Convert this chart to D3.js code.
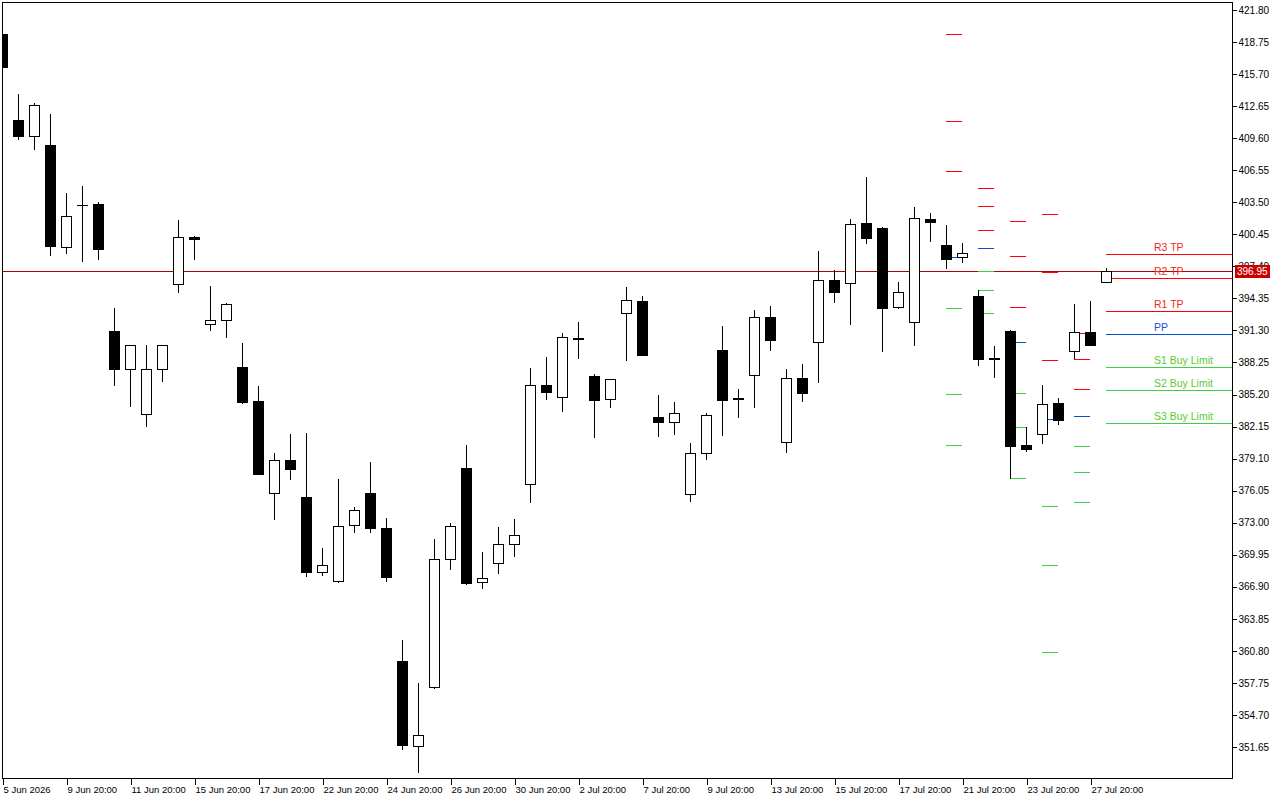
<!DOCTYPE html>
<html><head><meta charset="utf-8">
<script src="https://cdn.jsdelivr.net/npm/d3@7"></script>
<style>html,body{margin:0;padding:0;background:#fff;overflow:hidden}svg{display:block}</style>
</head><body>
<svg id="c" width="1280" height="800"></svg>
<script>
// ---------- DATA ----------
const dates = [
 "2026-06-05 20:00",
 "2026-06-08 08:00","2026-06-08 20:00","2026-06-09 08:00","2026-06-09 20:00",
 "2026-06-10 08:00","2026-06-10 20:00","2026-06-11 08:00","2026-06-11 20:00",
 "2026-06-12 08:00","2026-06-12 20:00","2026-06-15 08:00","2026-06-15 20:00",
 "2026-06-16 08:00","2026-06-16 20:00","2026-06-17 08:00","2026-06-17 20:00",
 "2026-06-18 08:00","2026-06-18 20:00","2026-06-22 08:00","2026-06-22 20:00",
 "2026-06-23 08:00","2026-06-23 20:00","2026-06-24 08:00","2026-06-24 20:00",
 "2026-06-25 08:00","2026-06-25 20:00","2026-06-26 08:00","2026-06-26 20:00",
 "2026-06-29 08:00","2026-06-29 20:00","2026-06-30 08:00","2026-06-30 20:00",
 "2026-07-01 08:00","2026-07-01 20:00","2026-07-02 08:00","2026-07-02 20:00",
 "2026-07-06 08:00","2026-07-06 20:00","2026-07-07 08:00","2026-07-07 20:00",
 "2026-07-08 08:00","2026-07-08 20:00","2026-07-09 08:00","2026-07-09 20:00",
 "2026-07-10 08:00","2026-07-10 20:00","2026-07-13 08:00","2026-07-13 20:00",
 "2026-07-14 08:00","2026-07-14 20:00","2026-07-15 08:00","2026-07-15 20:00",
 "2026-07-16 08:00","2026-07-16 20:00","2026-07-17 08:00","2026-07-17 20:00",
 "2026-07-20 08:00","2026-07-20 20:00","2026-07-21 08:00","2026-07-21 20:00",
 "2026-07-22 08:00","2026-07-22 20:00","2026-07-23 08:00","2026-07-23 20:00",
 "2026-07-24 08:00","2026-07-24 20:00","2026-07-27 08:00","2026-07-27 20:00",
 "2026-07-28 08:00"
];
const open  = [419.52,411.37,409.79,408.98,399.25,403.25,403.29,391.24,387.59,383.30,387.59,395.74,400.16,391.94,392.33,387.80,384.56,375.82,378.98,375.46,368.28,367.42,372.76,375.81,372.50,359.85,351.73,357.33,369.53,378.22,367.35,369.15,370.95,376.67,386.08,384.95,390.58,386.93,384.75,392.93,394.10,383.06,382.61,375.70,379.61,389.41,384.83,387.03,392.58,380.65,386.74,390.23,396.07,395.84,401.53,401.05,393.50,392.07,401.91,399.43,398.26,394.55,388.62,391.25,380.37,381.41,384.39,389.31,391.12,395.94];
const high  = [419.90,413.82,412.98,411.93,404.41,405.01,403.57,393.48,389.95,389.94,389.94,401.77,400.29,395.49,393.94,390.08,386.00,379.65,381.44,381.57,370.62,377.16,374.46,378.78,373.48,361.85,357.75,371.44,372.99,380.43,370.24,372.61,373.36,387.73,388.79,391.05,392.09,387.15,386.70,395.43,394.58,385.15,384.49,380.59,383.41,391.72,385.73,393.24,393.63,387.63,388.11,398.86,397.05,401.91,405.90,401.10,395.91,403.05,402.48,401.34,399.62,395.12,389.82,391.30,382.08,386.11,384.87,393.82,394.10,397.21];
const low   = [416.20,409.54,408.55,398.47,398.65,397.91,398.09,386.14,384.15,382.25,386.50,394.96,398.13,391.34,390.67,384.42,377.60,373.32,377.12,367.91,368.02,367.40,372.16,372.16,367.42,351.43,349.24,357.25,368.55,367.20,366.77,368.17,369.83,374.94,384.73,383.59,388.68,381.13,384.04,388.51,388.95,381.28,381.47,375.09,379.09,381.38,383.09,384.04,389.47,379.76,384.61,386.36,394.03,391.94,399.65,389.37,393.45,389.94,399.84,397.27,397.84,388.01,386.90,377.28,379.80,380.61,382.42,388.70,389.90,395.90];
const close = [416.38,409.85,412.74,399.32,402.20,403.28,399.03,387.66,389.87,387.59,389.87,400.19,400.03,392.33,393.77,384.53,377.68,378.98,378.07,368.35,368.96,372.65,374.19,372.46,367.79,351.80,352.78,369.53,372.65,367.23,367.75,370.99,371.86,386.08,385.48,390.63,390.52,384.65,386.65,394.17,388.99,382.61,383.41,379.61,383.22,384.71,384.77,392.55,390.42,386.74,385.37,396.07,394.99,401.40,400.13,393.46,394.93,401.97,401.65,398.13,398.64,388.61,388.68,380.33,380.04,384.27,382.80,391.12,389.94,396.95];

const yTickValues = [351.65,354.70,357.75,360.80,363.85,366.90,369.95,373.00,376.05,379.10,382.15,385.20,388.25,391.30,394.35,397.40,400.45,403.50,406.55,409.60,412.65,415.70,418.75,421.80];

const xTickDates  = ["2026-06-05 20:00","2026-06-09 20:00","2026-06-11 20:00","2026-06-15 20:00","2026-06-17 20:00","2026-06-22 20:00","2026-06-24 20:00","2026-06-26 20:00","2026-06-30 20:00","2026-07-02 20:00","2026-07-07 20:00","2026-07-09 20:00","2026-07-13 20:00","2026-07-15 20:00","2026-07-17 20:00","2026-07-21 20:00","2026-07-23 20:00","2026-07-27 20:00"];
const xTickLabels = ["5 Jun 2026","9 Jun 20:00","11 Jun 20:00","15 Jun 20:00","17 Jun 20:00","22 Jun 20:00","24 Jun 20:00","26 Jun 20:00","30 Jun 20:00","2 Jul 20:00","7 Jul 20:00","9 Jul 20:00","13 Jul 20:00","15 Jul 20:00","17 Jul 20:00","21 Jul 20:00","23 Jul 20:00","27 Jul 20:00"];

// daily pivot levels
const pivotDates = ["2026-07-21 08:00","2026-07-22 08:00","2026-07-23 08:00","2026-07-24 08:00","2026-07-27 08:00","2026-07-28 08:00"];
const R3 = [419.52,404.83,401.69,402.35,391.03,398.55];
const R2 = [411.23,403.12,398.36,396.83,388.55,396.26];
const R1 = [406.48,400.83,393.50,388.46,385.70,393.12];
const PP = [398.29,399.12,390.17,382.84,383.13,390.93];
const S1 = [393.44,396.93,385.32,374.59,380.27,387.79];
const S2 = [385.25,395.12,382.08,368.97,377.80,385.60];
const S3 = [380.40,392.93,377.23,360.69,374.94,382.46];
const levelNames = ["R3 TP","R2 TP","R1 TP","PP","S1 Buy Limit","S2 Buy Limit","S3 Buy Limit"];
const levelKinds = ["r","r","r","p","s","s","s"];
const currentPrice = 396.95;

// ---------- STYLE ----------
const COL = {r:"#ff0000", p:"#0050dc", s:"#3cd23c"};
const LBL = {r:"#f02818", p:"#1e50dc", s:"#5ac832"};
const FONT = "'Liberation Sans', Arial, sans-serif";
const L = 2, R = 1232, T = 2, B = 778;

// ---------- SCALES ----------
const n = dates.length;
const x = d3.scaleLinear().domain([0, n - 1]).range([2, 2 + 16 * (n - 1)]);
const y = d3.scaleLinear().domain([351.65, 421.80]).range([747, 10]);
const idx = d => dates.indexOf(d);

const svg = d3.select("#c");
svg.append("rect").attr("width",1280).attr("height",800).attr("fill","#fff");

svg.append("defs").append("clipPath").attr("id","plot")
  .append("rect").attr("x",L+1).attr("y",T+1).attr("width",R-L-1).attr("height",B-T-1);

const plot = svg.append("g").attr("clip-path","url(#plot)").attr("shape-rendering","crispEdges");

// current price line
plot.append("line")
  .attr("x1",L).attr("x2",R)
  .attr("y1",Math.round(y(currentPrice))+0.5).attr("y2",Math.round(y(currentPrice))+0.5)
  .attr("stroke","#b00000").attr("stroke-width",1);

// pivot markers
const levels = [R3,R2,R1,PP,S1,S2,S3];
pivotDates.forEach((d, j) => {
  const i = idx(d);
  const last = j === pivotDates.length - 1;
  const x1 = Math.round(x(i));
  const x2 = last ? R : Math.round(x(i + 1));
  levels.forEach((arr, li) => {
    const yy = Math.round(y(arr[j])) + 0.5;
    plot.append("line").attr("x1",x1).attr("x2",x2).attr("y1",yy).attr("y2",yy)
      .attr("stroke",COL[levelKinds[li]]).attr("stroke-width",1);
  });
});

// candles
const candles = plot.append("g");
dates.forEach((d, i) => {
  const cx = Math.round(x(i));
  const o = open[i], c = close[i], h = high[i], l = low[i];
  const g = candles.append("g");
  g.append("line").attr("x1",cx+0.5).attr("x2",cx+0.5)
    .attr("y1",Math.round(y(h))).attr("y2",Math.round(y(l))+1)
    .attr("stroke","#000").attr("stroke-width",1);
  const yt = Math.round(y(Math.max(o,c))), yb = Math.round(y(Math.min(o,c)));
  const bull = c >= o;
  if (yb - yt < 1) {
    g.append("line").attr("x1",cx-5).attr("x2",cx+6).attr("y1",yt+0.5).attr("y2",yt+0.5)
      .attr("stroke","#000").attr("stroke-width",1);
  } else {
    g.append("rect").attr("x",cx-5+0.5).attr("y",yt+0.5)
      .attr("width",10).attr("height",yb-yt)
      .attr("fill",bull?"#fff":"#000").attr("stroke","#000").attr("stroke-width",1);
  }
});

// level labels for the latest day
const jl = pivotDates.length - 1;
levels.forEach((arr, li) => {
  svg.append("text").attr("x",1154).attr("y",Math.round(y(arr[jl])) - 3)
    .attr("font-family",FONT).attr("font-size","10.5px")
    .attr("fill",LBL[levelKinds[li]]).text(levelNames[li]);
});

// frame
svg.append("rect").attr("x",L+0.5).attr("y",T+0.5).attr("width",R-L).attr("height",B-T)
  .attr("fill","none").attr("stroke","#000").attr("stroke-width",1).attr("shape-rendering","crispEdges");

// right axis
const ya = svg.append("g").attr("transform",`translate(${R+0.5},0)`)
  .call(d3.axisRight(y).tickValues(yTickValues).tickSize(4).tickPadding(2).tickFormat(d3.format(".2f")));
ya.select(".domain").remove();
ya.selectAll("line").attr("stroke","#000").attr("shape-rendering","crispEdges");
ya.selectAll("text").attr("font-family",FONT).attr("font-size","10px").attr("fill","#000");

// bottom axis
const xa = svg.append("g").attr("transform",`translate(0,${B+0.5})`)
  .call(d3.axisBottom(x).tickValues(xTickDates.map(idx)).tickSize(6).tickPadding(2)
    .tickFormat(v => xTickLabels[xTickDates.map(idx).indexOf(v)]));
xa.select(".domain").remove();
xa.selectAll("line").attr("stroke","#000").attr("shape-rendering","crispEdges")
  .attr("transform","translate(0.5,0)");
xa.selectAll("text").attr("font-family",FONT).attr("font-size","9.5px").attr("fill","#000")
  .attr("text-anchor","start").attr("dx","1px");

// current price tag
const yc = Math.round(y(currentPrice));
svg.append("rect").attr("x",R+3).attr("y",yc-6).attr("width",35).attr("height",13).attr("fill","#c80000");
svg.append("text").attr("x",R+5).attr("y",yc+0.5).attr("dy","0.35em")
  .attr("font-family",FONT).attr("font-size","10px").attr("fill","#fff").text(d3.format(".2f")(currentPrice));
</script>
</body></html>
